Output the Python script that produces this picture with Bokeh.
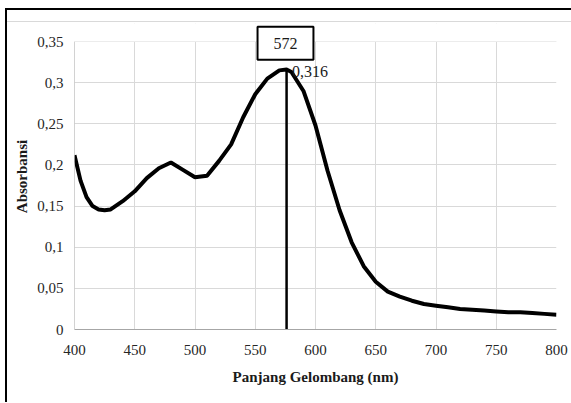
from bokeh.plotting import figure
from bokeh.models import FixedTicker, Label, BoxAnnotation, ColumnDataSource, Spacer
from bokeh.layouts import column
from bokeh.embed import file_html
from bokeh.resources import INLINE

wavelength = [400, 405, 410, 415, 420, 425, 430, 440, 450, 460, 470, 480, 490, 500,
              510, 520, 530, 540, 550, 560, 570, 576, 580, 590, 600, 610, 620, 630,
              640, 650, 660, 670, 680, 690, 700, 710, 720, 730, 740, 750, 760, 770,
              780, 790, 800]
absorbance = [0.212, 0.181, 0.161, 0.150, 0.146, 0.145, 0.146, 0.156, 0.168, 0.184,
              0.196, 0.203, 0.194, 0.185, 0.187, 0.205, 0.225, 0.258, 0.286, 0.305,
              0.315, 0.316, 0.313, 0.290, 0.248, 0.193, 0.145, 0.106, 0.077, 0.058,
              0.046, 0.040, 0.035, 0.031, 0.029, 0.027, 0.025, 0.024, 0.023, 0.022,
              0.021, 0.021, 0.020, 0.019, 0.018]

peak_x = [576, 576]
peak_y = [0.0, 0.316]
peak_label = "572"
peak_value_label = "0,316"

x_ticks = [400, 450, 500, 550, 600, 650, 700, 750, 800]
y_ticks = [0, 0.05, 0.1, 0.15, 0.2, 0.25, 0.3, 0.35]
y_tick_labels = ["0", "0,05", "0,1", "0,15", "0,2", "0,25", "0,3", "0,35"]
y_axis_top = 0.35

FONT = "Liberation Serif"

p = figure(width=564, height=381, output_backend="svg", toolbar_location=None,
           x_range=(400, 800), y_range=(0, 0.372),
           min_border_left=67, min_border_right=15, min_border_top=1, min_border_bottom=74,
           styles={"border-top": "1px solid #d9d9d9"})
p.outline_line_color = None
p.background_fill_color = "white"

src = ColumnDataSource(dict(x=wavelength, y=absorbance))
p.line("x", "y", source=src, line_color="black", line_width=4)
p.line(peak_x, peak_y, line_color="black", line_width=2.5)
p.line([x_ticks[0], x_ticks[0]], [0, y_axis_top], line_color="#a6a6a6", line_width=1)

for ax in (p.xaxis[0], p.yaxis[0]):
    ax.major_tick_line_color = None
    ax.minor_tick_line_color = None
    ax.major_tick_out = 0
    ax.major_tick_in = 0
    ax.axis_line_color = "#a6a6a6"
    ax.axis_line_width = 1
    ax.major_label_text_font = FONT
    ax.major_label_text_font_size = "15px"
    ax.major_label_text_color = "#262626"
    ax.axis_label_text_font = FONT
    ax.axis_label_text_font_style = "bold"
    ax.axis_label_text_font_size = "15px"
    ax.axis_label_text_color = "#1a1a1a"
p.yaxis.axis_line_color = None

p.xaxis.ticker = FixedTicker(ticks=x_ticks)
p.yaxis.ticker = FixedTicker(ticks=y_ticks)
p.yaxis.major_label_overrides = {t: l for t, l in zip(y_ticks, y_tick_labels)}
p.xaxis.axis_label = "Panjang Gelombang (nm)"
p.yaxis.axis_label = "Absorbansi"
p.xaxis.major_label_standoff = 15
p.yaxis.major_label_standoff = 11
p.xaxis.axis_label_standoff = 11
p.yaxis.axis_label_standoff = 4

p.xgrid.grid_line_color = "#d9d9d9"
p.ygrid.grid_line_color = "#d9d9d9"

# blank the strip above the plot area
p.add_layout(BoxAnnotation(bottom=y_axis_top, fill_color="white", fill_alpha=1.0,
                           line_alpha=0))
# peak marker box and labels
p.add_layout(BoxAnnotation(left=551.9, right=598.3, top=0.368, bottom=0.328,
                           fill_color="white", fill_alpha=1.0,
                           line_color="black", line_alpha=1.0, line_width=2))
p.add_layout(Label(x=575, y=0.348, text=peak_label, text_font=FONT,
                   text_font_size="16px", text_align="center",
                   text_baseline="middle", text_color="#1a1a1a"))
p.add_layout(Label(x=580.5, y=0.3135, text=peak_value_label, text_font=FONT,
                   text_font_size="16px", text_align="left",
                   text_baseline="middle", text_color="#1a1a1a"))

layout = column(Spacer(height=11, width=564), p, spacing=0,
                styles={"border-top": "2px solid black", "border-left": "2px solid black",
                        "margin-left": "5px", "margin-top": "8px"})

open("out.html", "w").write(file_html(layout, INLINE))
